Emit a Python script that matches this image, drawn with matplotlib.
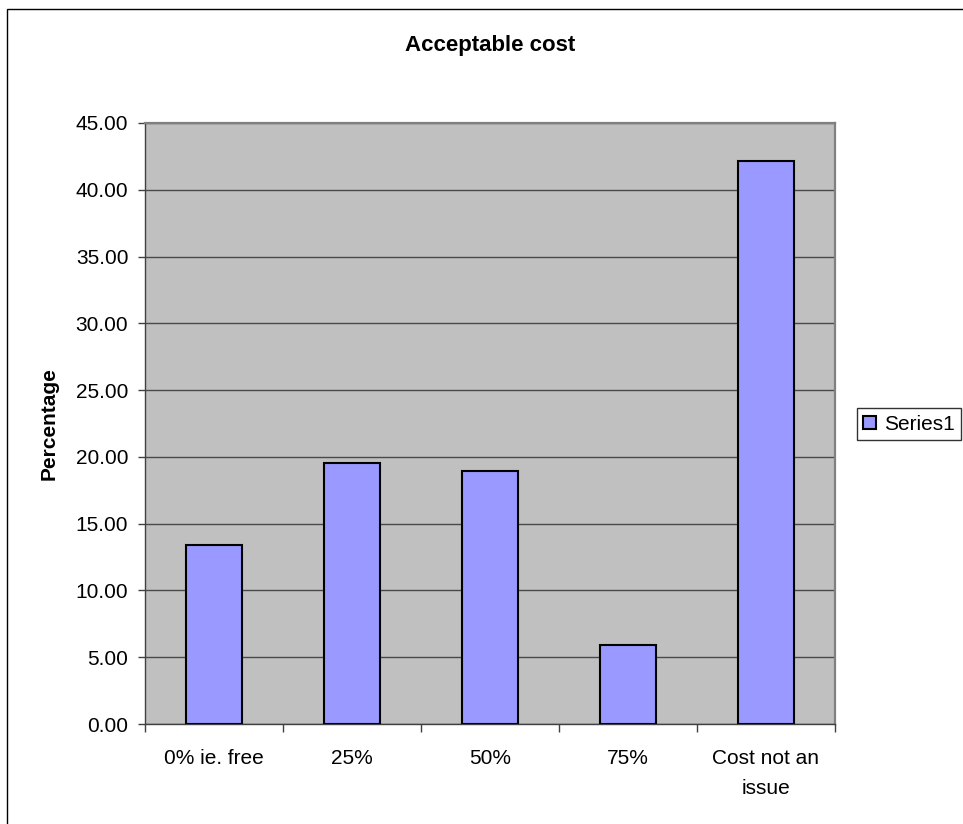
import matplotlib.pyplot as plt
from matplotlib.patches import Rectangle
from matplotlib.ticker import FormatStrFormatter, FixedLocator
import numpy as np

# Survey answers: what people would pay
categories = ["0% ie. free", "25%", "50%", "75%", "Cost not an\nissue"]
percentages = [13.4, 19.56, 18.96, 5.91, 42.14]
series_name = "Series1"

plt.rcParams['font.family'] = ['Liberation Sans', 'DejaVu Sans']

fig = plt.figure(figsize=(9.63, 8.24), dpi=100)
ax = fig.add_axes([145 / 963, 1 - 724 / 824, 690 / 963, 601 / 824])

# chart frame (only top/left edge visible)
fig.patches.append(Rectangle((7 / 963, -0.2), 1.2, 1.2 - 9 / 824,
                             transform=fig.transFigure, fill=False,
                             edgecolor='#000000', linewidth=1.0))

x = np.arange(len(categories))
ax.set_facecolor('#C0C0C0')
ax.bar(x, percentages, width=0.41, color='#9999FF', edgecolor='black',
       linewidth=1.5, zorder=3, label=series_name)

ax.set_xlim(-0.5, len(categories) - 0.5)
ax.set_ylim(0, 45)
ax.set_yticks(np.arange(0, 46, 5))
ax.yaxis.set_major_formatter(FormatStrFormatter('%.2f'))
ax.grid(axis='y', color='#4a4a4a', linewidth=1.0, zorder=1)

ax.set_xticks(x)
ax.set_xticklabels(categories, fontsize=15, linespacing=1.75)
ax.xaxis.set_minor_locator(FixedLocator(np.arange(-0.5, len(categories), 1.0)))
ax.tick_params(axis='x', which='major', length=0, pad=18)
ax.tick_params(axis='x', which='minor', length=6, width=1.0, color='#404040')
ax.tick_params(axis='y', length=5, width=1.0, color='#404040', labelsize=15, pad=7)

for side in ('top', 'right'):
    ax.spines[side].set_color('#808080')
    ax.spines[side].set_linewidth(1.6)
for side in ('left', 'bottom'):
    ax.spines[side].set_color('#404040')
    ax.spines[side].set_linewidth(1.0)

ax.set_ylabel("Percentage", fontsize=15, fontweight='bold', labelpad=12)
fig.text(490 / 963, 1 - 46 / 824, "Acceptable cost", fontsize=16,
         fontweight='bold', ha='center', va='center')

leg = ax.legend(loc='center left', bbox_to_anchor=(857 / 963, 1 - 424 / 824),
                bbox_transform=fig.transFigure, fontsize=15, frameon=True,
                fancybox=False, edgecolor='#000000', handlelength=0.6,
                handleheight=0.6, handletextpad=0.4, borderpad=0.3,
                borderaxespad=0)
leg.get_frame().set_linewidth(1.0)

fig.savefig("out.png", dpi=100)
